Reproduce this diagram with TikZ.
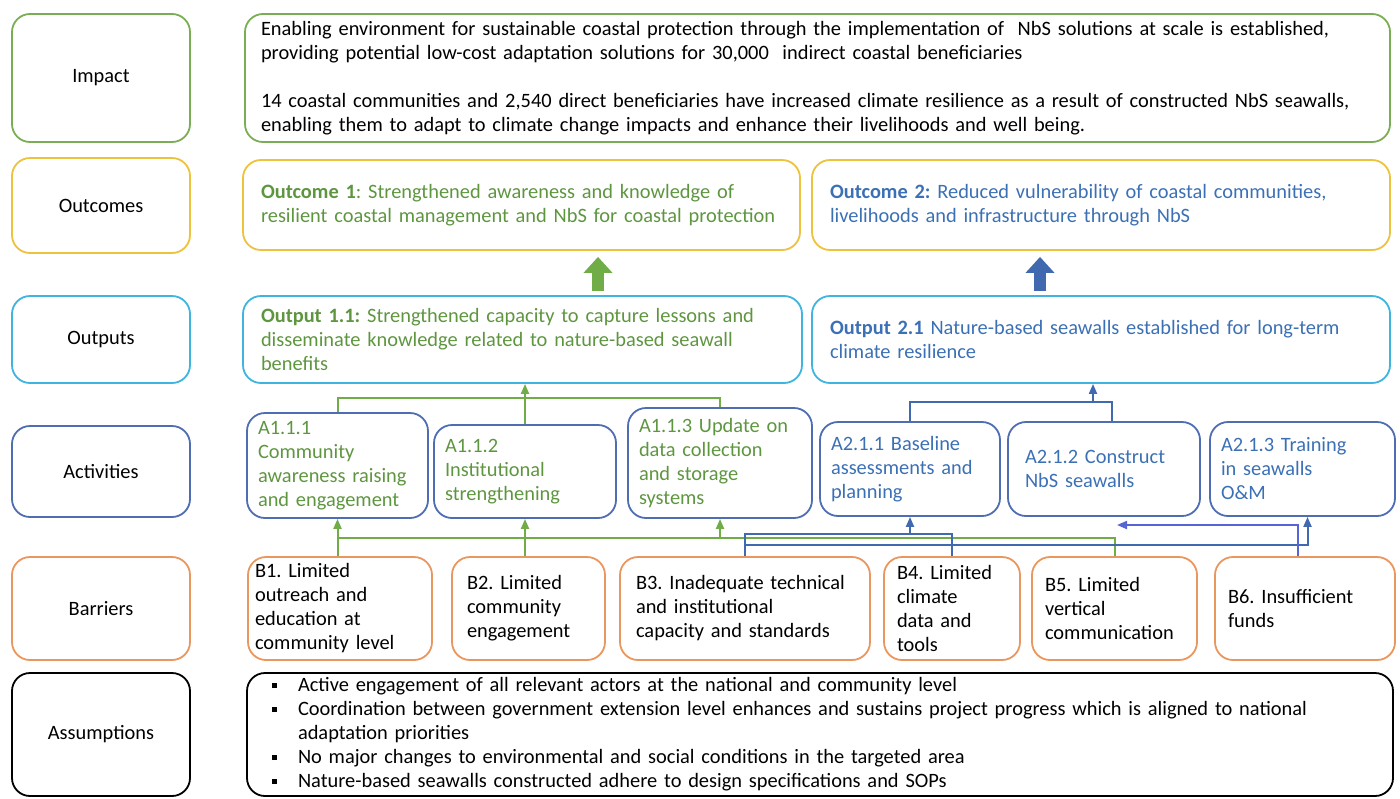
\documentclass[tikz,border=0pt]{standalone}
\usepackage{fontspec}
\setmainfont{Carlito}
\usepackage{tikz}
\usetikzlibrary{arrows.meta}
\definecolor{impgreen}{HTML}{7AAE55}
\definecolor{ocyellow}{HTML}{EDC23C}
\definecolor{outcyan}{HTML}{3FB4DE}
\definecolor{actblue}{HTML}{4F6DB2}
\definecolor{barorange}{HTML}{E9975E}
\definecolor{txtgreen}{HTML}{5E9640}
\definecolor{txtblue}{HTML}{3B70B5}
\definecolor{lgreen}{HTML}{70AD47}
\definecolor{lblue}{HTML}{4169B0}
\definecolor{lpurple}{HTML}{5664D6}
\newcommand{\asmbul}{\makebox[13pt][l]{\raisebox{1.8pt}{\rule{2.4pt}{2.4pt}}}}
\frenchspacing

\begin{document}
\begin{tikzpicture}[x=0.5pt,y=-0.5pt,
  every node/.style={font=\fontsize{10.2}{12}\selectfont},
  lbl/.style={draw,rounded corners=9pt,line width=0.9pt,minimum width=89pt,align=center,inner sep=0pt},
  txtbox/.style={draw,rounded corners=9pt,line width=0.9pt,align=left,inner ysep=0pt},
  link/.style={line width=1pt},
  tip/.style={-{Triangle[length=5pt,width=4pt]}},
  fat/.style={line width=6pt,-{Triangle[length=8pt,width=14pt]},shorten <=2pt,shorten >=3pt}]
\useasboundingbox (0,0) rectangle (1400,798);

% row labels
\node[lbl,draw=impgreen,minimum height=64pt] (impact) at (101,78) {Impact};
\node[lbl,draw=ocyellow,minimum height=47.5pt] (outcomes) at (101,205.5) {Outcomes};
\node[lbl,draw=outcyan,minimum height=43.5pt] (outputs) at (101,339.5) {Outputs};
\node[lbl,draw=actblue,minimum height=45.5pt] (activities) at (101,471.5) {Activities};
\node[lbl,draw=barorange,minimum height=51.5pt] (barriers) at (101,608.5) {Barriers};
\node[lbl,draw=black,minimum height=61.5pt] (assumptions) at (101,734.5) {Assumptions};

% impact and outcomes
\node[txtbox,draw=impgreen,inner xsep=8pt,text width=556.5pt,minimum height=64pt] (imptxt) at (817.5,78)
  {Enabling environment for sustainable coastal protection through the implementation of \ NbS solutions at scale is established,\\
   providing potential low-cost adaptation solutions for 30,000 \ indirect coastal beneficiaries\\[12pt]
   14 coastal communities and 2,540 direct beneficiaries have increased climate resilience as a result of constructed NbS seawalls,\\
   enabling them to adapt to climate change impacts and enhance their livelihoods and well being.};
\node[txtbox,draw=ocyellow,text=txtgreen,inner xsep=9pt,text width=260.5pt,minimum height=45pt] (oc1) at (521.5,205)
  {\textbf{Outcome 1}: Strengthened awareness and knowledge of\\resilient coastal management and NbS for coastal protection};
\node[txtbox,draw=ocyellow,text=txtblue,inner xsep=9pt,text width=271pt,minimum height=45pt] (oc2) at (1101,205)
  {\textbf{Outcome 2:} Reduced vulnerability of coastal communities,\\livelihoods and infrastructure through NbS};

% outputs
\node[txtbox,draw=outcyan,text=txtgreen,inner xsep=9pt,text width=261.5pt,minimum height=43.5pt] (out11) at (522.5,339.5)
  {\textbf{Output 1.1:} Strengthened capacity to capture lessons and\\disseminate knowledge related to nature-based seawall\\benefits};
\node[txtbox,draw=outcyan,text=txtblue,inner xsep=9pt,text width=271pt,minimum height=43.5pt] (out21) at (1101,339.5)
  {\textbf{Output 2.1} Nature-based seawalls established for long-term\\climate resilience};

% activities
\node[txtbox,draw=actblue,text=txtgreen,inner xsep=5.5pt,text width=79.5pt,minimum height=52.5pt] (a111) at (337.5,465.5)
  {A1.1.1\\Community\\awareness raising\\and engagement};
\node[txtbox,draw=actblue,text=txtgreen,inner xsep=5.5pt,text width=80pt,minimum height=46.5pt] (a112) at (525,471.5)
  {A1.1.2\\Institutional\\strengthening};
\node[txtbox,draw=actblue,text=txtgreen,inner xsep=5.5pt,text width=81pt,minimum height=55pt] (a113) at (720,463)
  {A1.1.3 Update on\\data collection\\and storage\\systems};
\node[txtbox,draw=actblue,text=txtblue,inner xsep=5.5pt,text width=79pt,minimum height=47pt] (a211) at (910,469)
  {A2.1.1 Baseline\\assessments and\\planning};
\node[txtbox,draw=actblue,text=txtblue,inner xsep=8.5pt,text width=79pt,minimum height=47pt] (a212) at (1104,469)
  {A2.1.2 Construct\\NbS seawalls};
\node[txtbox,draw=actblue,text=txtblue,inner xsep=5.5pt,text width=81.5pt,minimum height=47pt] (a213) at (1302.5,469)
  {A2.1.3 Training\\in seawalls\\O\&M};

% barriers
\node[txtbox,draw=barorange,inner xsep=3.5pt,text width=85pt,minimum height=51.5pt] (b1) at (340,608.5)
  {B1. Limited\\outreach and\\education at\\community level};
\node[txtbox,draw=barorange,inner xsep=7.5pt,text width=61.5pt,minimum height=51.5pt] (b2) at (528.5,608.5)
  {B2. Limited\\community\\engagement};
\node[txtbox,draw=barorange,inner xsep=8pt,text width=109pt,minimum height=51.5pt] (b3) at (745,608.5)
  {B3. Inadequate technical\\and institutional\\capacity and standards};
\node[txtbox,draw=barorange,inner xsep=6.5pt,text width=55pt,minimum height=51.5pt] (b4) at (952,608.5)
  {B4. Limited\\climate\\data and\\tools};
\node[txtbox,draw=barorange,inner xsep=6.5pt,text width=69.5pt,minimum height=51.5pt] (b5) at (1114.5,608.5)
  {B5. Limited\\vertical\\communication};
\node[txtbox,draw=barorange,inner xsep=6.5pt,text width=77pt,minimum height=51.5pt] (b6) at (1305,608.5)
  {B6. Insufficient\\funds};

% assumptions
\node[txtbox,draw=black,inner xsep=12.5pt,text width=548pt,minimum height=61.5pt] (asm) at (820,734.5)
  {\asmbul Active engagement of all relevant actors at the national and community level\\
   \asmbul Coordination between government extension level enhances and sustains project progress which is aligned to national\\
   \hspace*{13pt}adaptation priorities\\
   \asmbul No major changes to environmental and social conditions in the targeted area\\
   \asmbul Nature-based seawalls constructed adhere to design specifications and SOPs};

% big arrows output -> outcome
\coordinate (fa1) at ([xshift=37.75pt]out11.north);
\coordinate (fa2) at ([xshift=-30.5pt]out21.north);
\draw[fat,lgreen] (fa1) -- (fa1 |- oc1.south);
\draw[fat,lblue] (fa2) -- (fa2 |- oc2.south);

% activity -> output links
\coordinate (gtop) at (0,398);
\coordinate (btop) at (0,402);
\coordinate (a212top) at ([xshift=4pt]a212.north);
\coordinate (o21in) at ([xshift=-4pt]out21.south);
\draw[link,lgreen] (a111.north) |- (gtop -| a113.north) -- (a113.north);
\draw[link,lgreen,tip] (a112.north) -- (a112.north |- out11.south);
\draw[link,lblue] (a211.north) |- (a212top |- btop) -- (a212top);
\draw[link,lblue,tip] (o21in |- btop) -- (o21in);

% barrier -> activity links
\coordinate (gbus) at (0,538);
\coordinate (bbus) at (0,534);
\coordinate (bbus2) at (0,545);
\coordinate (a213in) at ([xshift=2.5pt]a213.south);
\coordinate (b6out) at ([xshift=-3.5pt]b6.north);
\coordinate (fbend) at (1117,525);
\draw[link,lgreen] (a111.south |- gbus) -| (b5.north);
\draw[link,lgreen,tip] (b1.north -| a111.south) -- (a111.south);
\draw[link,lgreen,tip] (b2.north -| a112.south) -- (a112.south);
\draw[link,lgreen,tip] (a113.south |- gbus) -- (a113.south);
\draw[link,lblue] (b3.north) |- (b4.north |- bbus) -- (b4.north);
\draw[link,lblue,tip] (a211.south |- bbus) -- (a211.south);
\draw[link,lblue,tip] (b3.north |- bbus2) -| (a213in);
\draw[link,lpurple,tip] (b6out) |- (fbend);
\end{tikzpicture}
\end{document}
